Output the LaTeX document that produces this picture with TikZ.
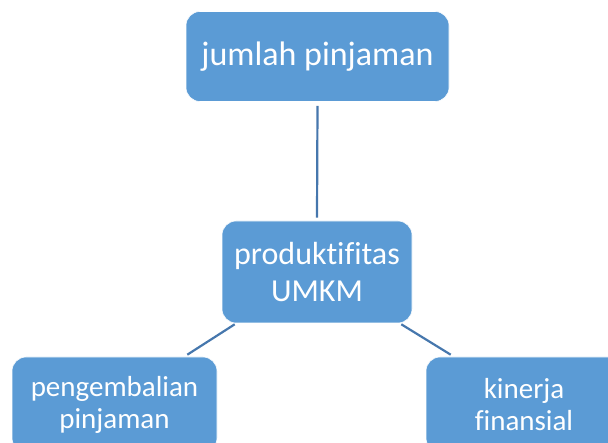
\documentclass[tikz,border=0pt]{standalone}
\usepackage{fontspec}
\setmainfont{Carlito}[Ligatures=NoCommon]
\usetikzlibrary{calc}
\definecolor{boxfill}{HTML}{5B9BD5}
\definecolor{linkcol}{HTML}{4677AD}
\tikzset{
  box/.style={rectangle, rounded corners=14pt, fill=boxfill, draw=white, line width=0.6pt,
    text=white, align=center, inner sep=0pt},
  link/.style={draw=linkcol, line width=2.2pt}
}
\begin{document}
\begin{tikzpicture}[x=1pt,y=-1pt]
\useasboundingbox (0,0) rectangle (608,443);
\clip (0,0) rectangle (608,443);
\node[box, minimum width=263pt, minimum height=90pt, font=\fontsize{34}{40}\selectfont] (top) at (317.5,56.5) {jumlah pinjaman};
\node[box, minimum width=190pt, minimum height=102pt, font=\fontsize{32}{37}\selectfont] (mid) at (317,272) {produktifitas\\UMKM};
\node[box, minimum width=205pt, minimum height=95pt, font=\fontsize{29}{32}\selectfont] (left) at (114.5,404.5) {pengembalian\\pinjaman};
\node[box, minimum width=196pt, minimum height=95pt, font=\fontsize{29}{32}\selectfont] (right) at (524,404.5) {kinerja\\finansial};
\coordinate (t1) at ($(top.south)+(0,4)$);
\coordinate (t2) at ($(mid.north)+(0,-3)$);
\coordinate (l1) at ($(mid.south west)+(13,1)$);
\coordinate (l2) at ($(left.north east)+(-30,-2)$);
\coordinate (r1) at ($(mid.south east)+(-11,1)$);
\coordinate (r2) at ($(right.north west)+(25,-2)$);
\draw[link] (t1) -- (t2);
\draw[link] (l1) -- (l2);
\draw[link] (r1) -- (r2);
\end{tikzpicture}
\end{document}
